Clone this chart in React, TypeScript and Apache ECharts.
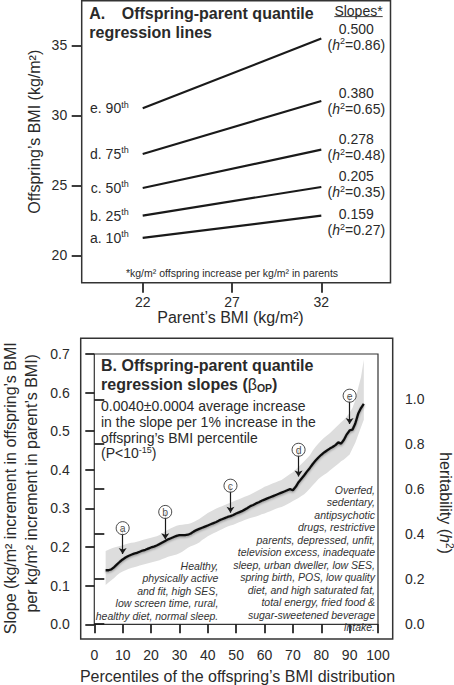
import React, { useEffect, useRef } from "react";
import * as echarts from "echarts";

const FONT = "'Liberation Sans', Arial, Helvetica, sans-serif";
const INK = "#1a1a1a";
const TEXT = "#2a2a2a";

// ---------- Panel A data ----------
const quantileNames = ["a. 10", "b. 25", "c. 50", "d. 75", "e. 90"];
const parentBMI = [22, 32];
const offspringAt22 = [21.24, 22.84, 24.81, 27.24, 30.5];
const offspringAt32 = [22.83, 24.88, 27.55, 31.02, 35.48];
const slopeText = ["0.159", "0.205", "0.278", "0.380", "0.500"];
const heritText = ["0.27", "0.35", "0.48", "0.65", "0.86"];

// ---------- Panel B data ----------
const percentiles = [
  4, 5, 6, 7, 8, 9, 10, 11, 12, 13, 14, 15, 16, 17, 18, 19, 20, 21, 22, 23, 24, 25, 26, 27, 28, 29, 30,
  31, 32, 33, 34, 35, 36, 37, 38, 39, 40, 41, 42, 43, 44, 45, 46, 47, 48, 49, 50, 51, 52, 53, 54, 55,
  56, 57, 58, 59, 60, 61, 62, 63, 64, 65, 66, 67, 68, 69, 70, 71, 72, 73, 74, 75, 76, 77, 78, 79, 80,
  81, 82, 83, 84, 85, 86, 87, 88, 89, 90, 91, 92, 93, 94, 95,
];
const slopeLine = [
  0.140, 0.140, 0.142, 0.148, 0.155, 0.162, 0.168, 0.173, 0.177, 0.180, 0.183, 0.185, 0.188, 0.191,
  0.193, 0.196, 0.199, 0.201, 0.204, 0.208, 0.212, 0.216, 0.220, 0.223, 0.226, 0.229, 0.231, 0.231,
  0.231, 0.232, 0.235, 0.240, 0.244, 0.247, 0.250, 0.253, 0.256, 0.259, 0.262, 0.265, 0.269, 0.272,
  0.275, 0.278, 0.280, 0.283, 0.287, 0.290, 0.293, 0.297, 0.301, 0.306, 0.309, 0.313, 0.316, 0.320,
  0.323, 0.326, 0.329, 0.332, 0.335, 0.338, 0.341, 0.344, 0.347, 0.350, 0.347, 0.356, 0.368, 0.377,
  0.386, 0.396, 0.405, 0.415, 0.424, 0.432, 0.439, 0.445, 0.450, 0.455, 0.459, 0.464, 0.471, 0.468,
  0.478, 0.492, 0.502, 0.504, 0.520, 0.545, 0.560, 0.571,
];
const bandUpper = [
  0.190, 0.193, 0.196, 0.199, 0.201, 0.203, 0.205, 0.207, 0.209, 0.211, 0.212, 0.214, 0.216, 0.218,
  0.220, 0.222, 0.224, 0.226, 0.228, 0.231, 0.236, 0.241, 0.245, 0.249, 0.252, 0.255, 0.257, 0.258,
  0.259, 0.260, 0.262, 0.265, 0.269, 0.273, 0.278, 0.283, 0.288, 0.292, 0.296, 0.300, 0.303, 0.306,
  0.309, 0.312, 0.315, 0.318, 0.321, 0.324, 0.327, 0.330, 0.333, 0.336, 0.340, 0.344, 0.348, 0.352,
  0.356, 0.359, 0.362, 0.365, 0.368, 0.371, 0.374, 0.379, 0.384, 0.389, 0.394, 0.401, 0.408, 0.415,
  0.422, 0.430, 0.438, 0.450, 0.460, 0.468, 0.476, 0.483, 0.489, 0.495, 0.502, 0.509, 0.516, 0.523,
  0.530, 0.538, 0.548, 0.560, 0.580, 0.612, 0.640, 0.685,
];
const bandLower = [
  0.102, 0.108, 0.114, 0.120, 0.127, 0.133, 0.137, 0.140, 0.143, 0.146, 0.148, 0.150, 0.152, 0.154,
  0.156, 0.158, 0.160, 0.162, 0.164, 0.166, 0.169, 0.172, 0.175, 0.177, 0.179, 0.181, 0.184, 0.188,
  0.193, 0.198, 0.202, 0.205, 0.208, 0.212, 0.218, 0.223, 0.228, 0.232, 0.236, 0.239, 0.243, 0.246,
  0.250, 0.253, 0.256, 0.258, 0.261, 0.264, 0.267, 0.270, 0.273, 0.275, 0.277, 0.279, 0.282, 0.285,
  0.287, 0.290, 0.293, 0.296, 0.299, 0.302, 0.304, 0.307, 0.311, 0.315, 0.319, 0.323, 0.327, 0.332,
  0.337, 0.344, 0.352, 0.360, 0.368, 0.376, 0.382, 0.387, 0.392, 0.398, 0.404, 0.410, 0.416, 0.422,
  0.427, 0.433, 0.440, 0.455, 0.470, 0.490, 0.510, 0.530,
];
const markerLetters = ["a", "b", "c", "d", "e"];
const markerPct = [10, 25, 48, 72, 90];
const markerCircle = [0.249, 0.291, 0.359, 0.452, 0.592];
const markerTip = [0.182, 0.22, 0.289, 0.383, 0.519];

const healthyNote = [
  "Healthy,",
  "physically active",
  "and fit, high SES,",
  "low screen time, rural,",
  "healthy diet, normal sleep.",
];
const obesogenicNote = [
  "Overfed,",
  "sedentary,",
  "antipsychotic",
  "drugs, restrictive",
  "parents, depressed, unfit,",
  "television excess, inadequate",
  "sleep, urban dweller, low SES,",
  "spring birth, POS, low quality",
  "diet, and high saturated fat,",
  "total energy, fried food &",
  "sugar-sweetened beverage",
  "intake.",
];

const tick = (len: number) => ({ show: true, inside: false, length: len, lineStyle: { color: INK, width: 1.7 } });
const lbl = (margin: number, fmt: (v: number) => string) => ({
  show: true,
  margin,
  color: TEXT,
  fontSize: 14,
  fontFamily: FONT,
  formatter: fmt,
});

function buildOption() {
  const supRich = {
    n: { fontSize: 14, fontFamily: FONT, color: TEXT, lineHeight: 16 },
    v: { fontSize: 14, fontFamily: FONT, color: TEXT, lineHeight: 16 },
    i: { fontSize: 14, fontFamily: FONT, color: TEXT, fontStyle: "italic", lineHeight: 16 },
    s: { fontSize: 9, fontFamily: FONT, color: TEXT, verticalAlign: "top", lineHeight: 10 },
  };
  // vertical nudges (as label padding) of the right-hand slope labels (layout only)
  const slopeLabelPad = [
    [13.6, 0, 0, 0],
    [0, 0, 5.4, 0],
    [0, 0, 5.2, 0],
    [0, 0, 0, 0],
    [0, 0, 4, 0],
  ];

  const panelALines = quantileNames.map((name, i) => ({
    type: "line",
    xAxisIndex: 0,
    yAxisIndex: 0,
    symbol: "circle",
    symbolSize: 0.01,
    clip: false,
    lineStyle: { color: INK, width: 2.2 },
    itemStyle: { color: INK },
    labelLayout: { hideOverlap: false },
    z: 3,
    data: [
      {
        value: [parentBMI[0], offspringAt22[i]],
        label: {
          show: true,
          position: "left",
          distance: 14,
          formatter: () => `{n|${name}}{s|th}`,
          rich: supRich,
        },
      },
      {
        value: [parentBMI[1], offspringAt32[i]],
        label: {
          show: true,
          position: "right",
          distance: 35,
          align: "center",
          verticalAlign: "middle",
          padding: slopeLabelPad[i],
          formatter: () => `{v|${slopeText[i]}}\n{n|(}{i|h}{s|2}{n|=${heritText[i]})}`,
          rich: supRich,
        },
      },
    ],
  }));

  const lineData = percentiles.map((p, i) => [p, slopeLine[i]]);

  const series: any[] = [
    ...panelALines,
    {
      type: "custom",
      coordinateSystem: "cartesian2d",
      xAxisIndex: 1,
      yAxisIndex: 1,
      data: percentiles.map((p, i) => [p, bandLower[i], bandUpper[i]]),
      encode: { x: 0, y: [1, 2] },
      renderItem: (params: any, api: any) => {
        if (params.dataIndex !== 0) return null;
        const pts: number[][] = [];
        for (let i = 0; i < percentiles.length; i++) pts.push(api.coord([percentiles[i], bandUpper[i]]));
        for (let i = percentiles.length - 1; i >= 0; i--) pts.push(api.coord([percentiles[i], bandLower[i]]));
        return { type: "polygon", shape: { points: pts }, style: { fill: "#dddddd", stroke: "none" } };
      },
      z: 1,
    },
    {
      type: "line",
      xAxisIndex: 1,
      yAxisIndex: 1,
      symbol: "none",
      lineStyle: {
        color: "#111",
        width: 2.3,
        shadowColor: "rgba(0,0,0,0.35)",
        shadowBlur: 2,
        shadowOffsetY: 1.2,
      },
      data: lineData,
      z: 3,
    },
    {
      type: "lines",
      coordinateSystem: "cartesian2d",
      xAxisIndex: 1,
      yAxisIndex: 1,
      symbol: ["none", "arrow"],
      symbolSize: 6,
      lineStyle: { color: INK, width: 1.2, opacity: 1 },
      data: markerPct.map((p, i) => ({ coords: [[p, markerCircle[i]], [p, markerTip[i]]] })),
      z: 4,
    },
    {
      type: "scatter",
      xAxisIndex: 1,
      yAxisIndex: 1,
      symbol: "circle",
      symbolSize: 13,
      itemStyle: { color: "#fff", borderColor: INK, borderWidth: 1 },
      label: {
        show: true,
        position: "inside",
        color: INK,
        fontSize: 10.5,
        fontFamily: FONT,
        formatter: (p: any) => markerLetters[p.dataIndex],
      },
      data: markerPct.map((p, i) => [p, markerCircle[i]]),
      z: 5,
    },
  ];

  const txt = (x: number, y: number, text: string, extra: any = {}) => ({
    type: "text",
    x,
    y,
    z: 50,
    style: {
      text,
      fill: TEXT,
      fontFamily: FONT,
      fontSize: 14,
      align: "left",
      verticalAlign: "middle",
      ...extra,
    },
  });

  const graphic: any[] = [
    // panel boxes
    {
      type: "rect",
      z: 40,
      shape: { x: 81.7, y: 0.8, width: 308.8, height: 281.9 },
      style: { fill: "none", stroke: "#333", lineWidth: 1.5 },
    },
    {
      type: "rect",
      z: 40,
      shape: { x: 80.7, y: 338.3, width: 312, height: 300.8 },
      style: { fill: "none", stroke: "#333", lineWidth: 1.5 },
    },
    // panel A titles
    txt(89.3, 13.8, "A.", { fontSize: 16, fontWeight: "bold" }),
    txt(121.7, 13.8, "Offspring-parent quantile", { fontSize: 16, fontWeight: "bold" }),
    txt(89.3, 32.2, "regression lines", { fontSize: 16, fontWeight: "bold" }),
    txt(358.5, 10.8, "Slopes*", { align: "center" }),
    {
      type: "line",
      z: 50,
      shape: { x1: 334.3, y1: 16.6, x2: 382.7, y2: 16.6 },
      style: { stroke: TEXT, lineWidth: 0.9 },
    },
    txt(232, 272.7, "*kg/m² offspring increase per kg/m² in parents", { align: "center", fontSize: 10.5 }),
    // panel A axis names
    {
      ...txt(34, 131.7, "Offspring’s BMI (kg/m²)", { align: "center", fontSize: 16 }),
      rotation: Math.PI / 2,
    },
    txt(230.5, 317, "Parent’s BMI (kg/m²)", { align: "center", fontSize: 16 }),
    // panel B titles
    txt(101, 365.3, "B. Offspring-parent quantile", { fontSize: 16, fontWeight: "bold" }),
    txt(101, 384.7, "{b|regression slopes (}{g|β}{u|OP}{b|)}", {
      rich: {
        b: { fontSize: 16, fontWeight: "bold", fontFamily: FONT, fill: TEXT, lineHeight: 18 },
        g: { fontSize: 16, fontFamily: FONT, fill: TEXT, lineHeight: 18 },
        u: { fontSize: 10.5, fontWeight: "bold", fontFamily: FONT, fill: TEXT, verticalAlign: "bottom", lineHeight: 12 },
      },
    }),
    txt(101, 406, "0.0040±0.0004 average increase"),
    txt(101, 421.8, "in the slope per 1% increase in the"),
    txt(101, 437.6, "offspring’s BMI percentile"),
    txt(101, 453.4, "{n|(P<10}{s|-15}{n|)}", {
      rich: {
        n: { fontSize: 14, fontFamily: FONT, fill: TEXT, lineHeight: 16 },
        s: { fontSize: 9, fontFamily: FONT, fill: TEXT, verticalAlign: "top", lineHeight: 10 },
      },
    }),
    txt(218.3, 559.5, healthyNote.join("\n"), {
      align: "right",
      verticalAlign: "top",
      fontSize: 10.5,
      fontStyle: "italic",
      lineHeight: 12.45,
      fill: "#333",
    }),
    txt(375, 483.8, obesogenicNote.join("\n"), {
      align: "right",
      verticalAlign: "top",
      fontSize: 10.5,
      fontStyle: "italic",
      lineHeight: 12.45,
      fill: "#333",
    }),
    // panel B axis names
    txt(237.5, 676.7, "Percentiles of the offspring’s BMI distribution", { align: "center", fontSize: 16 }),
    {
      ...txt(10, 488.3, "Slope (kg/m² increment in offspring’s BMI", { align: "center", fontSize: 16 }),
      rotation: Math.PI / 2,
    },
    {
      ...txt(31.5, 483.3, "per kg/m² increment in parent’s BMI)", { align: "center", fontSize: 16 }),
      rotation: Math.PI / 2,
    },
    {
      ...txt(445, 503, "{n|heritability (}{i|h}{s|2}{n|)}", {
        align: "center",
        rich: {
          n: { fontSize: 16, fontFamily: FONT, fill: TEXT, lineHeight: 18 },
          i: { fontSize: 16, fontFamily: FONT, fill: TEXT, fontStyle: "italic", lineHeight: 18 },
          s: { fontSize: 10, fontFamily: FONT, fill: TEXT, verticalAlign: "top", lineHeight: 11 },
        },
      }),
      rotation: -Math.PI / 2,
    },
  ];

  return {
    animation: false,
    textStyle: { fontFamily: FONT },
    grid: [
      { left: 142.7, right: 454 - 321.3, top: 45.3, bottom: 685 - 255.3 },
      {
        left: 94.3,
        right: 454 - 378,
        top: 354,
        bottom: 685 - 624.3,
        show: true,
        borderColor: "#333",
        borderWidth: 1.2,
        backgroundColor: "transparent",
      },
      { left: 94.3, right: 454 - 378, top: 399.3, bottom: 685 - 623.8 },
    ],
    xAxis: [
      {
        gridIndex: 0,
        type: "value",
        min: 22,
        max: 32,
        interval: 5,
        offset: 27.5,
        axisLine: { show: false },
        axisTick: tick(10),
        axisLabel: lbl(12, (v: number) => String(v)),
        splitLine: { show: false },
      },
      {
        gridIndex: 1,
        type: "value",
        min: 0,
        max: 100,
        interval: 10,
        offset: 14.7,
        axisLine: { show: false },
        axisTick: tick(9),
        axisLabel: lbl(9, (v: number) => String(v)),
        splitLine: { show: false },
      },
      { gridIndex: 2, type: "value", min: 0, max: 100, show: false },
    ],
    yAxis: [
      {
        gridIndex: 0,
        type: "value",
        min: 20,
        max: 35,
        interval: 5,
        offset: 61,
        axisLine: { show: false },
        axisTick: tick(10),
        axisLabel: lbl(14.5, (v: number) => String(v)),
        splitLine: { show: false },
      },
      {
        gridIndex: 1,
        type: "value",
        min: 0,
        max: 0.7,
        interval: 0.1,
        offset: 13.6,
        axisLine: { show: false },
        axisTick: tick(9),
        axisLabel: lbl(11, (v: number) => v.toFixed(1)),
        splitLine: { show: false },
      },
      {
        gridIndex: 2,
        type: "value",
        position: "right",
        min: 0,
        max: 1,
        interval: 0.2,
        offset: 15,
        axisLine: { show: false },
        axisTick: tick(10),
        axisLabel: lbl(12, (v: number) => v.toFixed(1)),
        splitLine: { show: false },
      },
    ],
    series,
    graphic,
  };
}

export default function App() {
  const ref = useRef<HTMLDivElement>(null);
  useEffect(() => {
    if (!ref.current) return;
    const chart = echarts.init(ref.current, undefined, { renderer: "svg" });
    chart.setOption(buildOption() as any);
    return () => chart.dispose();
  }, []);
  return (
    <div
      ref={ref}
      style={{ position: "fixed", left: 0, top: 0, width: 454, height: 685, background: "#fff" }}
    />
  );
}
